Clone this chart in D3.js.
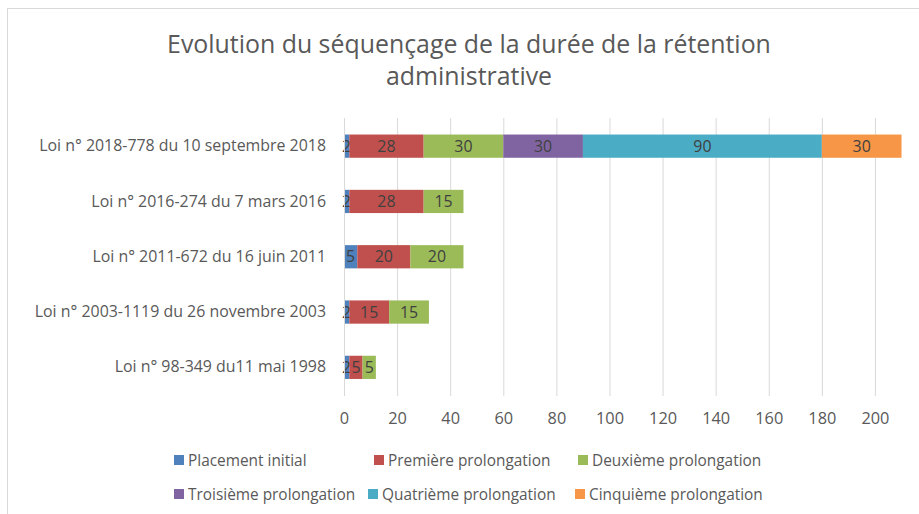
<!DOCTYPE html>
<html><head><meta charset="utf-8">
<script src="https://cdn.jsdelivr.net/npm/d3@7"></script>
<style>body{margin:0;background:#fff;}svg{display:block;font-family:"Open Sans",sans-serif;}</style>
</head><body><svg id="c" width="919" height="514"></svg>
<script>
const categories = ["Loi n° 2018-778 du 10 septembre 2018","Loi n° 2016-274 du 7 mars 2016","Loi n° 2011-672 du 16 juin 2011","Loi n° 2003-1119 du 26 novembre 2003","Loi n° 98-349 du11 mai 1998"];
const seriesNames = ["Placement initial","Première prolongation","Deuxième prolongation","Troisième prolongation","Quatrième prolongation","Cinquième prolongation"];
const placement = [2,2,5,2,2];
const premiere = [28,28,20,15,5];
const deuxieme = [30,15,20,15,5];
const troisieme = [30,0,0,0,0];
const quatrieme = [90,0,0,0,0];
const cinquieme = [30,0,0,0,0];
const xTicks = [0,20,40,60,80,100,120,140,160,180,200];
const colors = ["#4F81BD","#C0504D","#9BBB59","#8064A2","#4BACC6","#F79646"];
const seriesValues = [placement,premiere,deuxieme,troisieme,quatrieme,cinquieme];

const svg = d3.select("#c");
svg.append("rect").attr("x",7.5).attr("y",8.5).attr("width",1000).attr("height",1000).attr("fill","none").attr("stroke","#d9d9d9");

function fitSize(node, fs, target){ return fs*target/node.getComputedTextLength(); }

const t1 = svg.append("text").attr("x",469).attr("y",53).attr("text-anchor","middle").attr("font-size",23).attr("fill","#595959").text("Evolution du séquençage de la durée de la rétention");
const titleFs = fitSize(t1.node(),23,604);
t1.attr("font-size",titleFs);
svg.append("text").attr("x",469).attr("y",85).attr("text-anchor","middle").attr("font-size",titleFs).attr("fill","#595959").text("administrative");

const x = d3.scaleLinear().domain([0,210]).range([344,901.5]);
const y = d3.scaleBand().domain(categories).range([118.5,395]).paddingInner(0.58).paddingOuter(0.29);

svg.append("g").selectAll("line").data(xTicks).join("line")
  .attr("x1",d=>x(d)+0.5).attr("x2",d=>x(d)+0.5).attr("y1",118).attr("y2",396)
  .attr("stroke","#d9d9d9").attr("stroke-width",1);

const xAxis = d3.axisBottom(x).tickValues(xTicks).tickSize(0).tickPadding(0);
const gx = svg.append("g").attr("transform","translate(0,412)").call(xAxis).attr("font-family",null).attr("font-size",null);
gx.select(".domain").remove();
const xl = gx.selectAll("text").attr("font-size",14).attr("fill","#595959");
const xFs = fitSize(xl.nodes()[xl.nodes().length-1],14,28);
xl.attr("font-size",xFs);

const yAxis = d3.axisLeft(y).tickSize(0).tickPadding(0);
const gy = svg.append("g").attr("transform","translate(326,0)").call(yAxis).attr("font-family",null).attr("font-size",null);
gy.select(".domain").remove();
const ylab = gy.selectAll("text").attr("font-size",14).attr("fill","#595959");
const labFs = fitSize(ylab.nodes()[0],14,287);
ylab.attr("font-size", labFs);

const rows = categories.map((c,i)=>{const o={cat:c}; seriesNames.forEach((s,j)=>o[s]=seriesValues[j][i]); return o;});
const stack = d3.stack().keys(seriesNames)(rows);

stack.forEach((layer,j)=>{
  const g = svg.append("g");
  g.selectAll("rect").data(layer.filter(d=>d[1]-d[0]>0)).join("rect")
    .attr("x",d=>x(d[0])).attr("width",d=>x(d[1])-x(d[0]))
    .attr("y",d=>y(d.data.cat)).attr("height",y.bandwidth())
    .attr("fill",colors[j]);
  g.selectAll("text").data(layer.filter(d=>d[1]-d[0]>0)).join("text")
    .attr("x",d=>(x(d[0])+x(d[1]))/2).attr("y",d=>y(d.data.cat)+y.bandwidth()/2)
    .attr("dy","0.36em").attr("text-anchor","middle").attr("font-size",labFs).attr("fill","#404040")
    .text(d=>d[1]-d[0]);
});

svg.append("line").attr("x1",344.5).attr("x2",344.5).attr("y1",118).attr("y2",396).attr("stroke","#d9d9d9");

const legendPos = [[174,460],[374,460],[578,460],[174,494],[368,494],[575,494]];
const lg = svg.append("g").selectAll("g").data(seriesNames).join("g")
  .attr("transform",(d,i)=>`translate(${legendPos[i][0]},${legendPos[i][1]})`);
lg.append("rect").attr("x",0).attr("y",-5).attr("width",10).attr("height",10).attr("fill",(d,i)=>colors[i]);
const lt = lg.append("text").attr("x",14).attr("y",0).attr("dy","0.36em").attr("font-size",14).attr("fill","#595959").text(d=>d);
const legFs = fitSize(lt.nodes()[5],14,174);
lt.attr("font-size",legFs);
</script></body></html>
